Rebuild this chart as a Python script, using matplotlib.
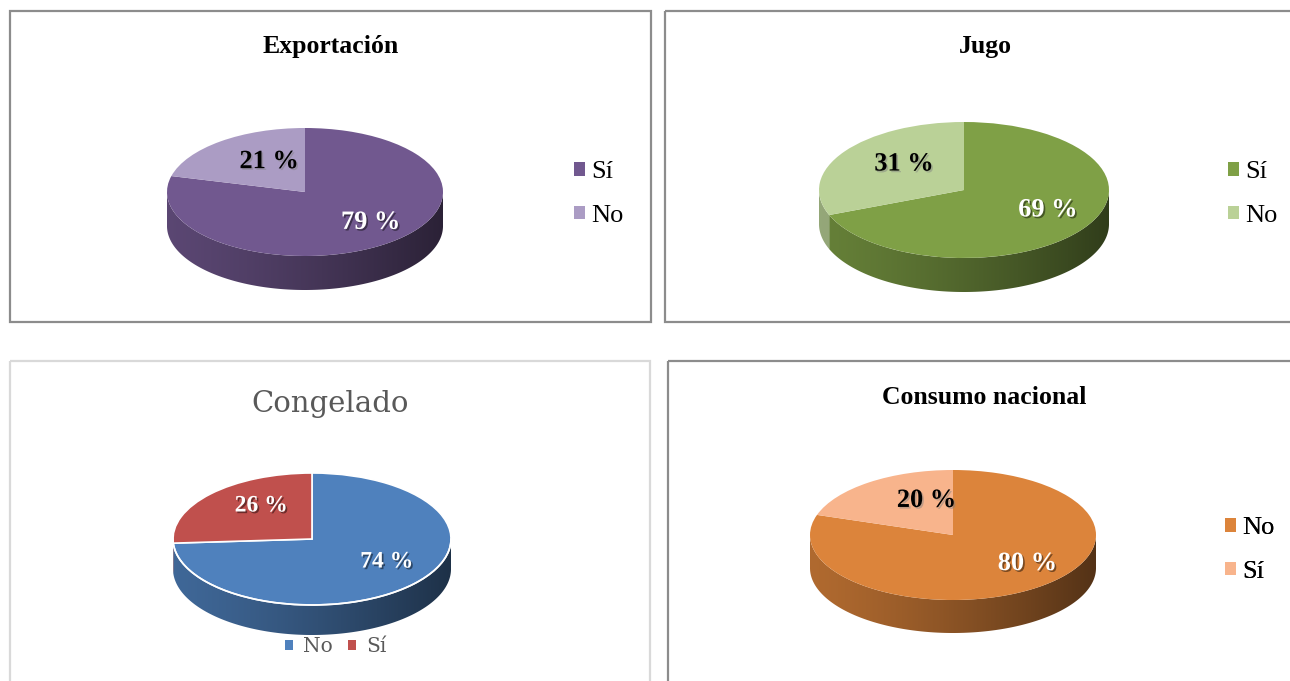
import numpy as np
import matplotlib
matplotlib.use('Agg')
import matplotlib.pyplot as plt
import matplotlib.patheffects as pe
from matplotlib.patches import Rectangle, Patch, Polygon
from matplotlib.colors import to_rgb
from matplotlib.transforms import offset_copy

W, H = 1290, 681

# survey answers, in the order the slices are drawn (clockwise from 12 o'clock)
export_labels = ['Sí', 'No']
export_values = [79, 21]
export_colors = ['#71588f', '#ab9cc4']

jugo_labels = ['Sí', 'No']
jugo_values = [69, 31]
jugo_colors = ['#7fa046', '#bad197']

congelado_labels = ['No', 'Sí']
congelado_values = [74, 26]
congelado_colors = ['#4f81bd', '#c0504d']

consumo_labels = ['No', 'Sí']
consumo_values = [80, 20]
consumo_colors = ['#dc843b', '#f8b48c']

SERIF = ['Liberation Serif', 'DejaVu Serif']

fig = plt.figure(figsize=(W / 100, H / 100), dpi=100)
fig.patch.set_facecolor('white')

# full-size overlay in pixel units for frames, titles and legends
base = fig.add_axes([0, 0, 1, 1])
base.set_xlim(0, W)
base.set_ylim(H, 0)
base.axis('off')


def frame(x0, y0, x1, y1, color, lw=1.6):
    base.add_patch(Rectangle((x0, y0), x1 - x0, y1 - y0, fill=False,
                             edgecolor=color, linewidth=lw, zorder=1))


def front_runs(theta1, theta2):
    """Angle runs (radians) of a wedge that face the viewer (lower half)."""
    ts = np.radians(np.linspace(theta1, theta2, 400))
    front = np.sin(ts) <= 1e-9
    runs, cur = [], []
    for t, f in zip(ts, front):
        if f:
            cur.append(t)
        elif cur:
            runs.append(np.array(cur))
            cur = []
    if cur:
        runs.append(np.array(cur))
    return [r for r in runs if len(r) > 1]


def pie3d(cx, cy, a, b, depth, values, colors, txt_colors, fontsize,
          pctdist=0.6, txt_off=(0, 0), edge=None):
    """Tilted pie: elliptical top from ax.pie plus a shaded front wall."""
    pad = 0.04
    d = depth / b
    left = cx - a * (1 + pad)
    top = cy - b * (1 + pad)
    width = 2 * a * (1 + pad)
    height = b * (2 + 2 * pad + d)
    ax = fig.add_axes([left / W, 1 - (top + height) / H, width / W, height / H])

    wedges, _, autotexts = ax.pie(
        values, colors=colors, startangle=90, counterclock=False,
        autopct=lambda p: f'{p:.0f} %', pctdistance=pctdist,
        wedgeprops=dict(edgecolor=edge if edge else 'none',
                        linewidth=1.2 if edge else 0, zorder=3))
    ax.set_aspect('auto')
    ax.axis('off')

    # front wall: horizontal gradient image clipped to each wedge's side
    xs = np.linspace(-1, 1, 300)
    shade = 0.80 - 0.42 * ((xs + 1) / 2) ** 1.3
    for w, col in zip(wedges, colors):
        rgb = np.array(to_rgb(col))
        grad = np.clip(shade[None, :, None] * rgb[None, None, :], 0, 1)
        for run in front_runs(w.theta1, w.theta2):
            top_pts = np.column_stack([np.cos(run), np.sin(run)])
            bot_pts = top_pts[::-1] - [0, d]
            clip = Polygon(np.vstack([top_pts, bot_pts]), closed=True,
                           facecolor='none', edgecolor='none')
            ax.add_patch(clip)
            im = ax.imshow(grad, extent=(-1, 1, -1 - d, 0.05), aspect='auto',
                           interpolation='bilinear', zorder=1)
            im.set_clip_path(clip)
    if edge:
        t = np.linspace(np.pi, 2 * np.pi, 200)
        ax.plot(np.cos(t), np.sin(t), color=edge, lw=1.2, zorder=4)
    ax.set_xlim(-1 - pad, 1 + pad)
    ax.set_ylim(-1 - d - pad, 1 + pad)

    tr = offset_copy(ax.transData, fig=fig, x=txt_off[0], y=txt_off[1], units='dots')
    for txt, tc in zip(autotexts, txt_colors):
        txt.set(color=tc, fontsize=fontsize, fontweight='bold', family=SERIF,
                zorder=5, transform=tr)
        shadow = 'black' if tc == 'white' else '#7f7f7f'
        txt.set_path_effects([pe.withSimplePatchShadow(offset=(1.2, -1.2),
                                                       shadow_rgbFace=shadow, alpha=0.45)])
    return ax


def side_legend(x, y, labels, colors):
    handles = [Patch(facecolor=c, edgecolor='none') for c in colors]
    leg = base.legend(handles=handles, labels=labels, loc='center left',
                      bbox_to_anchor=(x, y), bbox_transform=base.transData,
                      frameon=False, handlelength=0.42, handleheight=0.42,
                      handletextpad=0.25, labelspacing=0.82, borderpad=0,
                      borderaxespad=0, prop=dict(family=SERIF, size=19))
    base.add_artist(leg)
    return leg


# panel frames
frame(10, 11, 651, 322, '#8c8c8c')
frame(665, 11, 1300, 322, '#8c8c8c')
frame(10, 361, 650, 690, '#d9d9d9')
frame(668, 361, 1300, 690, '#8c8c8c')

# Exportación
base.text(331, 47, 'Exportación', ha='center', va='center', fontsize=18.5,
          fontweight='bold', family=SERIF)
pie3d(305, 192, 138, 64, 34, export_values, export_colors, ['white', 'black'], 19,
      txt_off=(15, 0))
side_legend(574, 194, export_labels, export_colors)

# Jugo
base.text(985, 47, 'Jugo', ha='center', va='center', fontsize=18.5,
          fontweight='bold', family=SERIF)
pie3d(964, 190, 145, 68, 34, jugo_values, jugo_colors, ['white', 'black'], 19,
      txt_off=(12, 3))
side_legend(1228, 194, jugo_labels, jugo_colors)

# Congelado
base.text(330, 404, 'Congelado', ha='center', va='center', fontsize=21,
          color='#595959', family=['DejaVu Serif'])
pie3d(312, 539, 139, 66, 30, congelado_values, congelado_colors,
      ['white', 'white'], 17, pctdist=0.62, txt_off=(12, 5), edge='white')
handles = [Patch(facecolor=c, edgecolor='none') for c in congelado_colors]
leg = base.legend(handles=handles, labels=congelado_labels, loc='center',
                  bbox_to_anchor=(336, 647), bbox_transform=base.transData, ncol=2,
                  frameon=False, handlelength=0.4, handleheight=0.4, handletextpad=0.5,
                  columnspacing=0.75, borderpad=0, borderaxespad=0,
                  prop=dict(family=['DejaVu Serif'], size=14.5),
                  labelcolor='#595959')
base.add_artist(leg)

# Consumo nacional
base.text(984, 397, 'Consumo nacional', ha='center', va='center', fontsize=18.5,
          fontweight='bold', family=SERIF)
pie3d(953, 535, 143, 65, 33, consumo_values, consumo_colors, ['white', 'black'], 19,
      txt_off=(24, 3))
side_legend(1225, 550, consumo_labels, consumo_colors)

fig.savefig('out.png', dpi=100, facecolor='white')
